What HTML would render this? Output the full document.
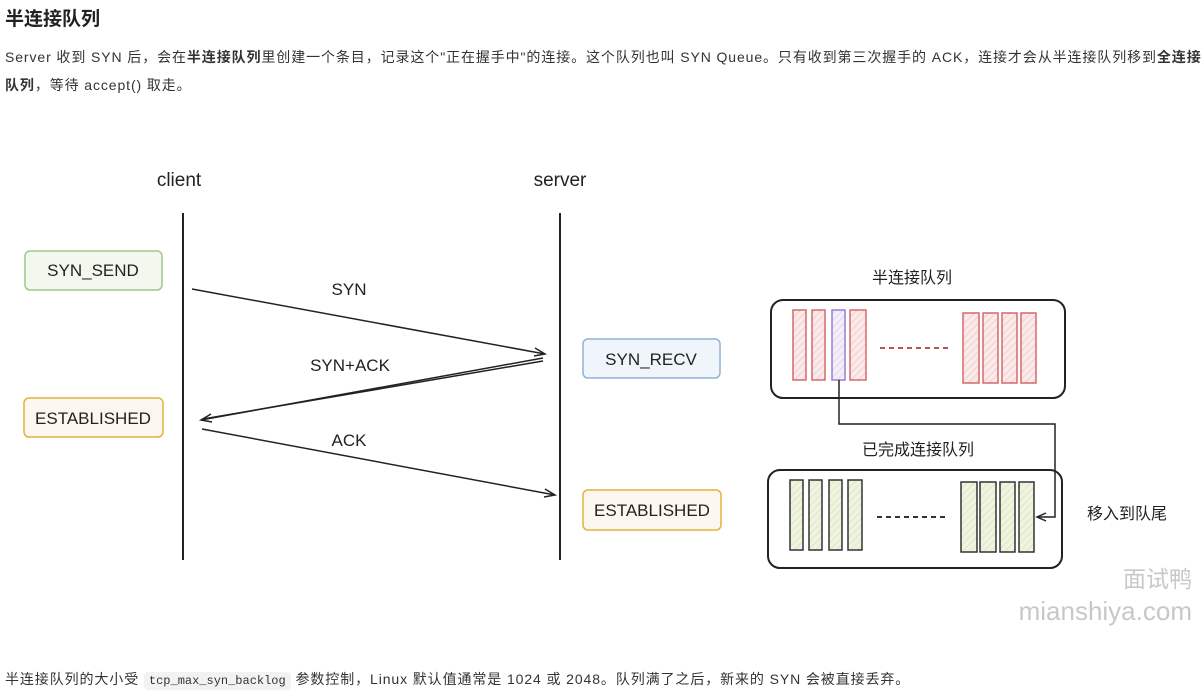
<!DOCTYPE html>
<html><head><meta charset="utf-8">
<style>
body{margin:0;width:1203px;height:693px;background:#fff;position:relative;overflow:hidden;font-family:"Liberation Sans","Noto Sans CJK SC",sans-serif;color:#222}
.t{position:absolute;white-space:nowrap}
.p{font-size:14px;color:#333;letter-spacing:0.9px}
code{font-family:"Liberation Mono",monospace;font-size:12px;background:#f2f2f2;border-radius:4px;padding:2px 5px;letter-spacing:0}
</style></head><body>
<div class="t" style="left:5px;top:4px;font-size:19px;font-weight:bold;color:#222">半连接队列</div>
<div class="t p" style="left:5px;top:47px">Server 收到 SYN 后，会在<b>半连接队列</b>里创建一个条目，记录这个"正在握手中"的连接。这个队列也叫 SYN Queue。只有收到第三次握手的 ACK，连接才会从半连接队列移到<b>全连接</b></div>
<div class="t p" style="left:5px;top:75px"><b>队列</b>，等待 accept() 取走。</div>
<div class="t p" style="left:5px;top:669px">半连接队列的大小受 <code>tcp_max_syn_backlog</code> 参数控制，Linux 默认值通常是 1024 或 2048。队列满了之后，新来的 SYN 会被直接丢弃。</div>

<svg width="1203" height="693" style="position:absolute;left:0;top:0" font-family="Liberation Sans,Noto Sans CJK SC,sans-serif">
<defs>
<pattern id="hr" width="5" height="5" patternUnits="userSpaceOnUse" patternTransform="rotate(45)"><rect width="5" height="5" fill="#fbeaea"/><line x1="0" y1="0" x2="0" y2="5" stroke-width="1.5" stroke="#f0c4c4"/></pattern>
<pattern id="hg" width="5" height="5" patternUnits="userSpaceOnUse" patternTransform="rotate(45)"><rect width="5" height="5" fill="#eef4e0"/><line x1="0" y1="0" x2="0" y2="5" stroke-width="1.5" stroke="#d6e4bb"/></pattern>
<pattern id="hp" width="5" height="5" patternUnits="userSpaceOnUse" patternTransform="rotate(45)"><rect width="5" height="5" fill="#f3eefa"/><line x1="0" y1="0" x2="0" y2="5" stroke-width="1.5" stroke="#ddd0f0"/></pattern>
</defs>
<g font-size="19" fill="#222" text-anchor="middle">
<text x="179" y="186">client</text>
<text x="560" y="186">server</text>
</g>
<line x1="183" y1="213" x2="183" y2="560" stroke="#222" stroke-width="2"/>
<line x1="560" y1="213" x2="560" y2="560" stroke="#222" stroke-width="2"/>
<g stroke-width="1.5" font-size="17" text-anchor="middle" fill="#222">
<rect x="25" y="251" width="137" height="39" rx="5" fill="#f3f8ef" stroke="#9cc98a"/>
<text x="93" y="276" fill="#222" stroke="none">SYN_SEND</text>
<rect x="24" y="398" width="139" height="39" rx="5" fill="#fdf8ef" stroke="#e0b43c"/>
<text x="93" y="424" stroke="none">ESTABLISHED</text>
<rect x="583" y="339" width="137" height="39" rx="5" fill="#f0f5fb" stroke="#8fb2d8"/>
<text x="651" y="365" stroke="none">SYN_RECV</text>
<rect x="583" y="490" width="138" height="40" rx="5" fill="#fdf8ef" stroke="#e0b43c"/>
<text x="652" y="516" stroke="none">ESTABLISHED</text>
<text x="349" y="295" stroke="none">SYN</text>
<text x="350" y="371" stroke="none">SYN+ACK</text>
<text x="349" y="446" stroke="none">ACK</text>
</g>
<g stroke="#222" stroke-width="1.5" fill="none">
<line x1="192" y1="289" x2="545" y2="354"/><path d="M535 348 L545 354 L534 356"/>
<line x1="543" y1="358" x2="201" y2="420"/><line x1="543" y1="361" x2="203" y2="419"/><path d="M211 414 L201 420 L212 422"/>
<line x1="202" y1="429" x2="555" y2="495"/><path d="M545 489 L555 495 L544 497"/>
</g>
<text x="912" y="283" font-size="16" text-anchor="middle" fill="#222">半连接队列</text>
<text x="918" y="455" font-size="16" text-anchor="middle" fill="#222">已完成连接队列</text>
<text x="1087" y="519" font-size="16" fill="#222">移入到队尾</text>
<rect x="771" y="300" width="294" height="98" rx="12" fill="none" stroke="#222" stroke-width="2"/>
<rect x="768" y="470" width="294" height="98" rx="12" fill="none" stroke="#222" stroke-width="2"/>
<g stroke="#d46a6a" stroke-width="1.5" fill="url(#hr)">
<rect x="793" y="310" width="13" height="70"/><rect x="812" y="310" width="13" height="70"/>
<rect x="850" y="310" width="16" height="70"/>
<rect x="963" y="313" width="16" height="70"/><rect x="983" y="313" width="15" height="70"/><rect x="1002" y="313" width="15" height="70"/><rect x="1021" y="313" width="15" height="70"/>
</g>
<rect x="832" y="310" width="13" height="70" stroke="#9a7fcf" stroke-width="1.5" fill="url(#hp)"/>
<g stroke="#333" stroke-width="1.5" fill="url(#hg)">
<rect x="790" y="480" width="13" height="70"/><rect x="809" y="480" width="13" height="70"/><rect x="829" y="480" width="13" height="70"/><rect x="848" y="480" width="14" height="70"/>
<rect x="961" y="482" width="16" height="70"/><rect x="980" y="482" width="16" height="70"/><rect x="1000" y="482" width="15" height="70"/><rect x="1019" y="482" width="15" height="70"/>
</g>
<line x1="880" y1="348" x2="948" y2="348" stroke="#c05050" stroke-width="2" stroke-dasharray="5,4"/>
<line x1="877" y1="517" x2="945" y2="517" stroke="#333" stroke-width="2" stroke-dasharray="5,4"/>
<path d="M839 380 V424 H1055 V517 H1038" fill="none" stroke="#222" stroke-width="1.5"/>
<path d="M1046 513 L1037 517 L1046 521" fill="none" stroke="#222" stroke-width="1.5"/>
<text x="1192" y="587" font-size="23" text-anchor="end" fill="#c8c8c8">面试鸭</text>
<text x="1192" y="620" font-size="26" text-anchor="end" fill="#c8c8c8">mianshiya.com</text>
</svg>
</body></html>
